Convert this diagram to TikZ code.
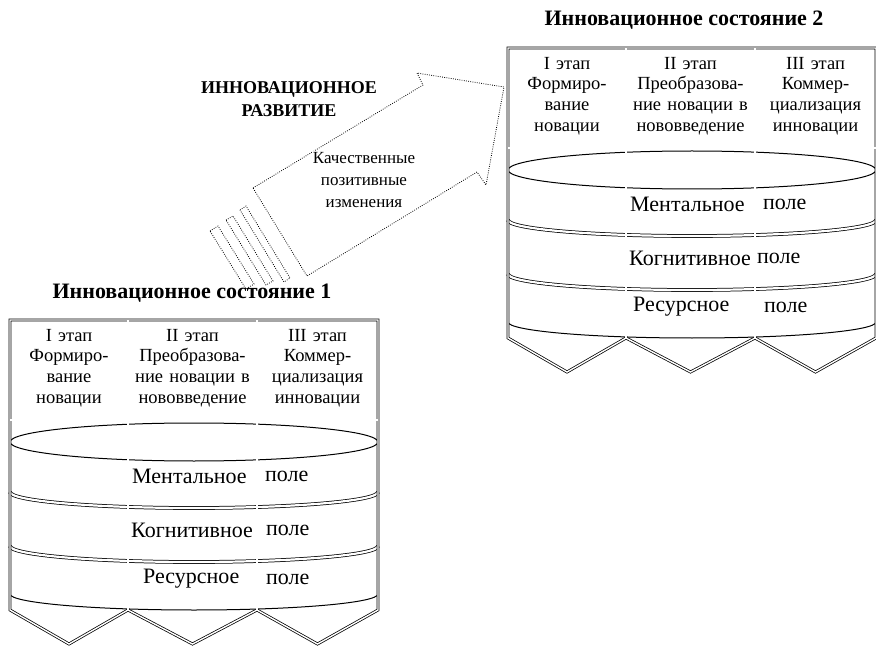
\documentclass[tikz,border=0pt]{standalone}
\usepackage{fontspec}
\setmainfont{Liberation Serif}
\tikzset{
  frame/.style={draw, double, line width=0.75pt, double distance=1.4pt, line join=miter},
  band/.style={draw, double, line width=0.75pt, double distance=2.2pt},
  thinline/.style={draw, line width=1pt},
  hdr/.style={font=\fontsize{18.5}{20.7}\selectfont, align=center, text width=125pt, inner sep=0pt},
  fld/.style={font=\fontsize{22}{24}\selectfont, inner sep=0pt, anchor=west},
  ttl/.style={font=\bfseries\fontsize{22}{24}\selectfont, inner sep=0pt},
  arrline/.style={draw, line width=0.8pt, dash pattern=on 0.8pt off 1.4pt},
}
\newcommand\innstate[4]{%
\begin{scope}[shift={#2}]
  \draw[thinline] (184,122) ellipse [x radius=184pt, y radius=19pt];
  \draw[band] (0,172) arc[start angle=180, end angle=360, x radius=184pt, y radius=16pt];
  \draw[band] (0,226) arc[start angle=180, end angle=360, x radius=184pt, y radius=16pt];
  \draw[thinline] (0,274) arc[start angle=180, end angle=360, x radius=184pt, y radius=16pt];
  \draw[frame] (0,0) -- (368,0) -- (368,290) -- (307.5,324) -- (247,290) -- (182.5,324)
     -- (118,290) -- (59,324) -- (0,290) -- cycle;
  \draw[frame] (0,100) -- (368,100);
  \draw[frame] (118,0) -- (118,290);
  \draw[frame] (247,0) -- (247,290);
  \node[hdr] (#1-h1) at (59,48) {I этап\\Формиро-\\вание\\новации};
  \node[hdr] (#1-h2) at (182.5,48) {II этап\\Преобразова-\\ние новации в\\нововведение};
  \node[hdr] (#1-h3) at (307.5,48) {III этап\\Коммер-\\циализация\\инновации};
  \node[fld] (#1-m) at (122,156) {Ментальное};
  \node[fld] (#1-mp) at (255,156) {поле};
  \node[fld] (#1-k) at (121,210) {Когнитивное};
  \node[fld] (#1-kp) at (#4,210) {поле};
  \node[fld] (#1-r) at (#3,259) {Ресурсное};
  \node[fld] (#1-rp) at (256,259) {поле};
\end{scope}}
\begin{document}
\begin{tikzpicture}[x=1pt, y=-1pt]
  \useasboundingbox (0,0) rectangle (876,647);
  \innstate{s1}{(10,320)}{133}{256}
  \innstate{s2}{(508,48)}{125}{249}
  \node[ttl] (t1) at (192,293) {Инновационное состояние 1};
  \node[ttl] (t2) at (684,20) {Инновационное состояние 2};
  \node[font=\bfseries\fontsize{18}{22.5}\selectfont, align=center, inner sep=0pt] (dev) at (289,99) {ИННОВАЦИОННОЕ\\РАЗВИТИЕ};
  % arrow
  \draw[arrline] (253,188) -- (423,85) -- (417,73) -- (504,87) -- (486,185) -- (477,172) -- (307,276) -- cycle;
  % tail stripes
  \draw[arrline] (210,231) -- (218,226) -- (254,284) -- (246,289) -- cycle;
  \draw[arrline] (226,220) -- (233,216) -- (273,281) -- (266,285) -- cycle;
  \draw[arrline] (240,210) -- (246,206) -- (290,278) -- (284,282) -- cycle;
  \node[font=\fontsize{17}{22}\selectfont, align=center, inner sep=1pt, fill=white] (chg) at (364,180) {Качественные\\позитивные\\изменения};
\end{tikzpicture}
\end{document}
